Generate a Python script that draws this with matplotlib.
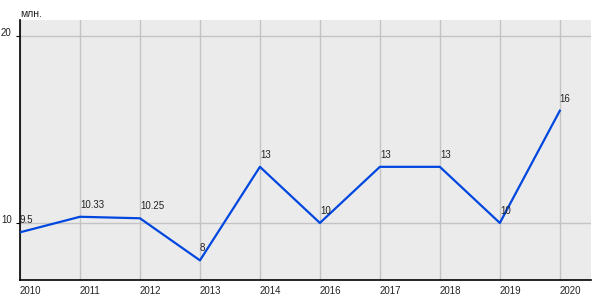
import matplotlib
matplotlib.use("Agg")
import matplotlib.pyplot as plt

years = ["2010", "2011", "2012", "2013", "2014", "2016", "2017", "2018", "2019", "2020"]
values = [9.5, 10.33, 10.25, 8, 13, 10, 13, 13, 10, 16]
labels = ["9.5", "10.33", "10.25", "8", "13", "10", "13", "13", "10", "16"]
yticks = [10, 20]

plt.rcParams["font.family"] = ["Liberation Sans", "DejaVu Sans"]

fig = plt.figure(figsize=(6, 3), dpi=100)
ax = fig.add_axes([20 / 600, 20 / 300, 571 / 600, 260 / 300])
ax.set_facecolor("#ebebeb")

x = list(range(len(years)))
ax.plot(x, values, color="#0047e0", lw=1.6, zorder=3)

for xi, v, t in zip(x, values, labels):
    ax.annotate(t, (xi, v), xytext=(0, 5), textcoords="offset points",
                ha="left", va="bottom", fontsize=7, color="#222222", zorder=4)

ax.set_xlim(0, 9.52)
ax.set_ylim(6.95, 20.85)
ax.set_xticks(x)
ax.set_xticklabels(years, ha="left", fontsize=7, color="#222222")
ax.set_yticks(yticks)
ax.set_yticklabels([str(t) for t in yticks], fontsize=7, color="#222222", va="baseline")
ax.tick_params(axis="x", length=0, pad=4)
ax.tick_params(axis="y", length=3, width=0.8, pad=3)
ax.grid(True, color="#c4c4c4", lw=1, zorder=0)
ax.set_axisbelow(True)

for s in ["top", "right"]:
    ax.spines[s].set_visible(False)
ax.spines["left"].set_linewidth(1.2)
ax.spines["bottom"].set_linewidth(1.2)

fig.text(20 / 600, 1 - 14 / 300, "млн.", fontsize=7.5, color="#222222", va="center", ha="left")

fig.savefig("out.png", dpi=100)
